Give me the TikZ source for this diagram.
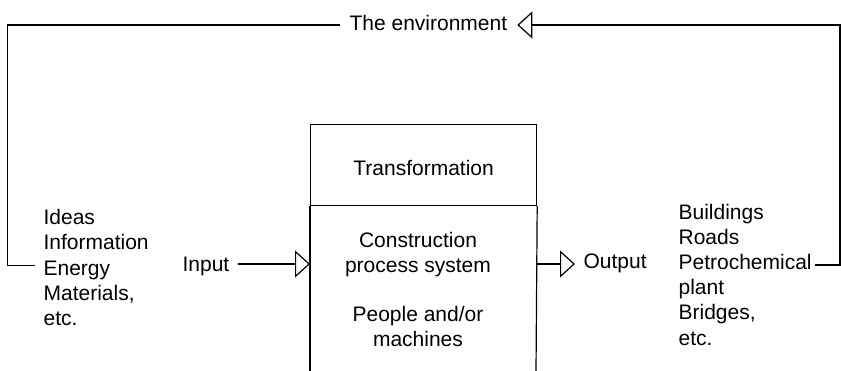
\documentclass[tikz,border=0pt]{standalone}
\usepackage{fontspec}
\setmainfont{Liberation Sans}
\usetikzlibrary{arrows.meta}
\begin{document}
\begin{tikzpicture}[x=1pt,y=-1pt,
  line width=1.2pt,
  txt/.style={font=\fontsize{21}{25.4}\selectfont, inner sep=0pt},
  tri/.style={-{Triangle[open,length=15pt,width=27pt,line width=1.2pt]}},
]
\useasboundingbox (0,0) rectangle (841,371);
% helper coordinates
\coordinate (cl) at (7.3,25);
\coordinate (cr) at (840,25);
\coordinate (li) at (35,265.5);
\coordinate (ro) at (815,265);
\coordinate (ay) at (0,264);
\coordinate (bl) at (310,372);
\coordinate (br) at (536,372);
% nodes (multi-line nodes: base anchor = baseline of last line)
\node[txt, inner xsep=9.5pt, anchor=base west] (env) at (339.5,31) {The environment};
\node[txt, draw, anchor=north west, minimum width=226pt, minimum height=80.7pt,
      text height=21pt, text depth=0pt] (trans) at (310,124.3) {Transformation};
\node[txt, align=center, anchor=base, font=\fontsize{21}{24.8}\selectfont] (proc) at (418,346.7)
  {Construction\\process system\\[24.8pt]People and/or\\machines};
\node[txt, align=left, anchor=base west] (ins) at (43,326)
  {Ideas\\Information\\Energy\\Materials,\\etc.};
\node[txt, align=left, anchor=base west, font=\fontsize{21}{25.2}\selectfont] (outs) at (678,345)
  {Buildings\\Roads\\Petrochemical\\plant\\Bridges,\\etc.};
\node[txt, inner xsep=8pt, anchor=base west] (input) at (174,271.7) {Input};
\node[txt, inner xsep=8pt, anchor=base west] (output) at (575,268.3) {Output};
% open-bottom box sides
\draw (trans.south west) -- (bl);
\draw (trans.south east) -- (br);
% connectors
\draw[tri] (input.east |- ay) -- (trans.south west |- ay);
\draw[tri] (trans.south east |- ay) -- (output.west |- ay);
\draw (env.west |- cl) -- (cl) |- (li);
\draw[tri] (ro) -| (cr) -- (env.east |- cr);
\end{tikzpicture}
\end{document}
